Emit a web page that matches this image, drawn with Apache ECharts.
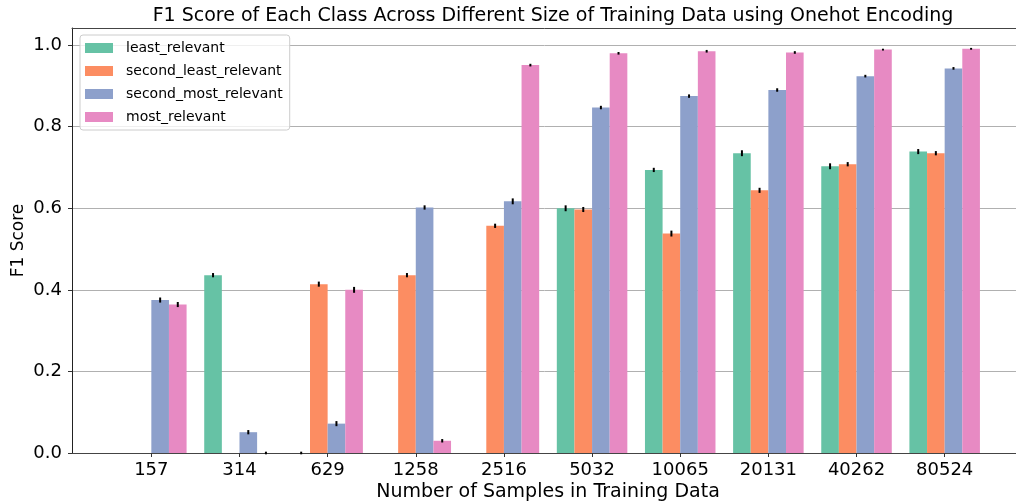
<!DOCTYPE html>
<html>
<head>
<meta charset="utf-8">
<script src="https://cdn.jsdelivr.net/npm/echarts@6/dist/echarts.min.js"></script>
<style>
    html, body { margin: 0; padding: 0; background: #fff; }
    #chart { width: 1016px; height: 504px; }
</style>
</head>
<body>
<div id="chart"></div>
<script>
    // training set sizes
    const categories = ['157', '314', '629', '1258', '2516', '5032', '10065', '20131', '40262', '80524'];
    const seriesNames = ['least_relevant', 'second_least_relevant', 'second_most_relevant', 'most_relevant'];
    const colors = ['#66c2a5', '#fc8d62', '#8da0cb', '#e78ac3'];

    // mean F1 per class
    const leastRelevant = [0, 0.436, 0, 0, 0, 0.600, 0.694, 0.735, 0.703, 0.739];
    const secondLeastRelevant = [0, 0, 0.414, 0.436, 0.557, 0.597, 0.538, 0.644, 0.708, 0.735];
    const secondMostRelevant = [0.375, 0.051, 0.072, 0.602, 0.617, 0.847, 0.875, 0.890, 0.924, 0.943];
    const mostRelevant = [0.364, 0, 0.400, 0.030, 0.951, 0.980, 0.985, 0.982, 0.989, 0.991];

    // error bar half-lengths
    const leastErr = [0, 0.004, 0.002, 0, 0, 0.006, 0.004, 0.006, 0.006, 0.005];
    const secondLeastErr = [0, 0, 0.005, 0.004, 0.004, 0.005, 0.006, 0.005, 0.004, 0.004];
    const secondMostErr = [0.005, 0.004, 0.005, 0.004, 0.006, 0.003, 0.003, 0.003, 0.002, 0.002];
    const mostErr = [0.005, 0.002, 0.006, 0.003, 0.002, 0.002, 0.002, 0.002, 0.001, 0.001];

    const yTicks = [0, 0.2, 0.4, 0.6, 0.8, 1.0];

    const values = [leastRelevant, secondLeastRelevant, secondMostRelevant, mostRelevant];
    const errs = [leastErr, secondLeastErr, secondMostErr, mostErr];
    const barW = 0.2;
    const font = 'DejaVu Sans';

    function makeSeries(k) {
        const off = (k - 1.5) * barW;
        return {
            name: seriesNames[k],
            type: 'custom',
            itemStyle: { color: colors[k] },
            encode: { x: 0, y: 1 },
            data: values[k].map((v, i) => [i, v, errs[k][i]]),
            renderItem: function (params, api) {
                const i = api.value(0), v = api.value(1), e = api.value(2);
                const p0 = api.coord([i + off - barW / 2, v]);
                const p1 = api.coord([i + off + barW / 2, 0]);
                const children = [{
                    type: 'rect',
                    shape: { x: p0[0], y: p0[1], width: p1[0] - p0[0], height: p1[1] - p0[1] },
                    style: { fill: colors[k] }
                }];
                if (e > 0) {
                    const a = api.coord([i + off, v - e]);
                    const b = api.coord([i + off, v + e]);
                    children.push({
                        type: 'line',
                        shape: { x1: a[0], y1: a[1] + 0.5, x2: b[0], y2: b[1] - 0.5 },
                        style: { stroke: '#000', lineWidth: 2 }
                    });
                }
                return { type: 'group', children: children };
            }
        };
    }

    const tickIdx = categories.map((c, i) => i);

    const myChart = echarts.init(document.getElementById('chart'));
    myChart.setOption({
        animation: false,
        textStyle: { fontFamily: font },
        title: {
            text: 'F1 Score of Each Class Across Different Size of Training Data using Onehot Encoding',
            left: 548, top: 2, textAlign: 'center',
            textStyle: { fontFamily: font, fontSize: 19, fontWeight: 'normal', color: '#000' }
        },
        legend: {
            orient: 'vertical',
            left: 80, top: 35,
            icon: 'rect',
            itemWidth: 28, itemHeight: 10,
            itemGap: 7,
            padding: [5, 7, 5, 5],
            backgroundColor: 'rgba(255,255,255,0.8)',
            borderColor: '#cccccc', borderWidth: 1, borderRadius: 3,
            textStyle: { fontFamily: font, fontSize: 14, color: '#000', lineHeight: 16, padding: [0, 0, 0, 8] },
            data: seriesNames
        },
        grid: {
            left: 72, top: 28, bottom: 51, width: 952,
            containLabel: false,
            outerBoundsMode: 'none'
        },
        xAxis: [{
            type: 'value',
            min: -0.9, max: 9.9,
            name: 'Number of Samples in Training Data',
            nameLocation: 'middle', nameGap: 30,
            nameMoveOverlap: false,
            nameTextStyle: { fontFamily: font, fontSize: 19, color: '#000' },
            axisLine: { show: true, onZero: false, lineStyle: { color: '#444', width: 1.2 } },
            axisTick: { show: true, length: 4, customValues: tickIdx, lineStyle: { color: '#333' } },
            axisLabel: {
                customValues: tickIdx,
                formatter: v => categories[Math.round(v)],
                fontFamily: font, fontSize: 18, color: '#000', margin: 8
            },
            splitLine: { show: false }
        }, {
            // top spine only
            type: 'value', position: 'top',
            min: -0.9, max: 9.9,
            axisLine: { show: true, onZero: false, lineStyle: { color: '#444', width: 1 } },
            axisTick: { show: false }, axisLabel: { show: false }, splitLine: { show: false }
        }],
        yAxis: {
            type: 'value',
            min: 0, max: 1.042,
            name: 'F1 Score',
            nameLocation: 'middle', nameGap: 45,
            nameMoveOverlap: false,
            nameTextStyle: { fontFamily: font, fontSize: 17, color: '#000' },
            axisLine: { show: true, onZero: false, lineStyle: { color: '#222', width: 1 } },
            axisTick: { show: true, length: 4, customValues: yTicks, lineStyle: { color: '#333' } },
            axisLabel: {
                customValues: yTicks,
                formatter: v => v.toFixed(1),
                fontFamily: font, fontSize: 18, color: '#000', margin: 10
            },
            splitLine: { show: true, lineStyle: { color: '#b0b0b0', width: 1 } },
            interval: 0.2
        },
        series: [0, 1, 2, 3].map(makeSeries)
    });
</script>
</body>
</html>
